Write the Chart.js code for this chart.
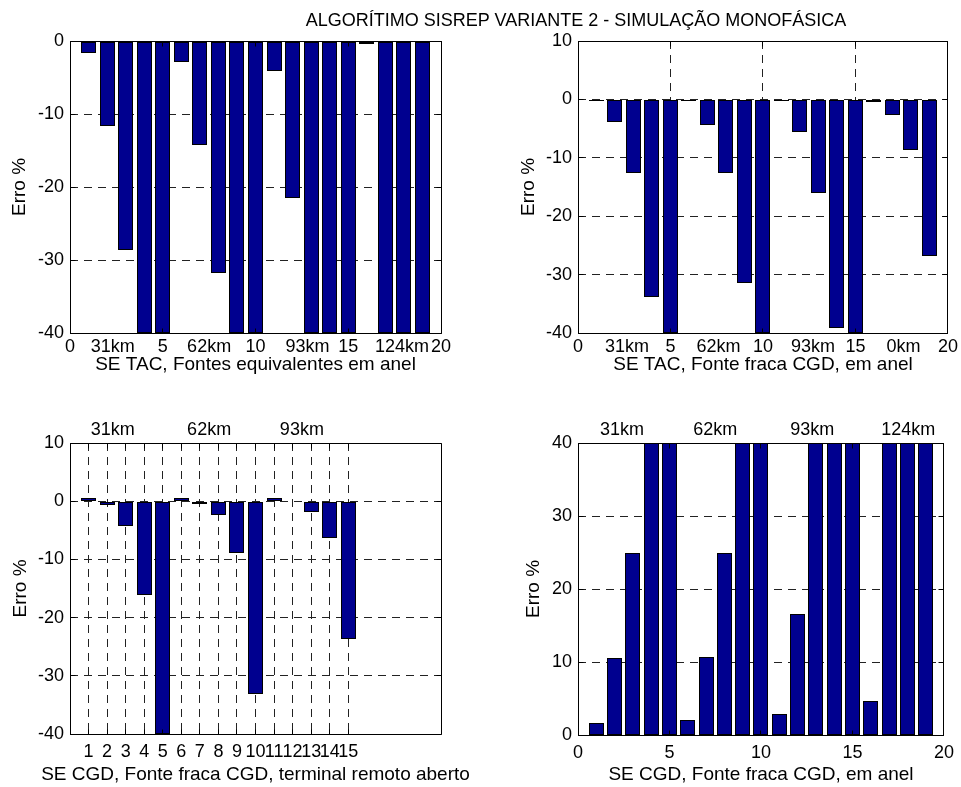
<!DOCTYPE html>
<html>
<head>
<meta charset="utf-8">
<script src="https://cdn.jsdelivr.net/npm/chart.js@4.4.1/dist/chart.umd.min.js"></script>
<style>
  body { margin: 0; background: #fff; width: 961px; height: 787px; position: relative; overflow: hidden; }
  canvas { position: absolute; }
  #titulo {
    position: absolute; left: 276px; top: 11px; width: 600px; text-align: center;
    font-family: 'Liberation Sans', Arial, sans-serif; font-size: 18px; line-height: 18px; color: #000;
  }
</style>
</head>
<body>
<canvas id="g1" width="480" height="393" style="left:0;top:0"></canvas>
<canvas id="g2" width="481" height="393" style="left:480px;top:0"></canvas>
<canvas id="g3" width="480" height="394" style="left:0;top:393px"></canvas>
<canvas id="g4" width="481" height="394" style="left:480px;top:393px"></canvas>
<div id="titulo">ALGORÍTIMO SISREP VARIANTE 2 - SIMULAÇÃO MONOFÁSICA</div>
<script>
// posições das barras (pontos de falta)
const posicoes = [1, 2, 3, 4, 5, 6, 7, 8, 9, 10, 11, 12, 13, 14, 15, 16, 17, 18, 19];

const erroTacAnel = [-1.7, -11.6, -28.6, -40, -40, -2.9, -14.2, -31.8, -40, -40, -4.1, -21.5, -40, -40, -40, -0.45, -40, -40, -40];
const erroTacFraca = [-0.3, -3.9, -12.6, -33.8, -40, -0.2, -4.4, -12.6, -31.4, -40, -0.3, -5.6, -16.1, -39.1, -40, -0.5, -2.6, -8.7, -26.8];
const erroCgdAberto = [0.5, -0.6, -4.2, -16.2, -40, 0.5, -0.4, -2.4, -8.9, -33.1, 0.5, -0.1, -1.8, -6.4, -23.6];
const erroCgdAnel = [1.6, 10.5, 24.9, 40, 40, 2.0, 10.7, 24.9, 40, 40, 2.9, 16.6, 40, 40, 40, 4.7, 40, 40, 40];

// marcas numéricas do eixo x
const marcasCinco = [0, 5, 10, 15, 20];
const marcasUm = [1, 2, 3, 4, 5, 6, 7, 8, 9, 10, 11, 12, 13, 14, 15];

// rótulos de distância
const kmPos1 = [2.3, 7.5, 12.8, 17.9];
const kmRotulos1 = ["31km", "62km", "93km", "124km"];
const kmPos2 = [2.65, 7.6, 12.7, 17.6];
const kmRotulos2 = ["31km", "62km", "93km", "0km"];
const kmPos3 = [2.3, 7.5, 12.5];
const kmRotulos3 = ["31km", "62km", "93km"];
const kmPos4 = [2.4, 7.5, 12.8, 18.05];
const kmRotulos4 = ["31km", "62km", "93km", "124km"];

const familia = "'Liberation Sans', Arial, sans-serif";
Chart.defaults.font.family = familia;
Chart.defaults.font.size = 18;
Chart.defaults.color = "#000";

const corGrade = "#222";
const corBarra = "#00008F";

function rotulo(v, p) {
  const i = p.kmPos.indexOf(v);
  if (i >= 0) return p.kmRotulos[i];
  return String(v);
}

const alinha = (v) => Math.round(v - 0.5) + 0.5;

// encaixa as barras nos pixels para a borda ficar nitida
const encaixe = {
  id: "encaixe",
  beforeDatasetsDraw(chart) {
    chart.getDatasetMeta(0).data.forEach((el) => {
      const w = Math.round(el.width);
      const esq = Math.round(el.x - w / 2);
      el.x = esq + w / 2;
      el.width = w;
      el.y = Math.round(el.y);
      el.base = Math.round(el.base);
    });
  },
};

// moldura da área do gráfico, tiques para dentro (estilo matlab) e texto do eixo x
const moldura = {
  id: "moldura",
  afterDatasetsDraw(chart, args, opts) {
    const { ctx, chartArea: a, scales } = chart;
    const x0 = alinha(a.left), x1 = alinha(a.right);
    const y0 = alinha(a.top), y1 = alinha(a.bottom);
    ctx.save();
    ctx.strokeStyle = "#000";
    ctx.lineWidth = 1;
    ctx.beginPath();
    scales.x.ticks.forEach((t) => {
      if (!opts.marcas.includes(t.value)) return;
      const px = alinha(scales.x.getPixelForValue(t.value));
      ctx.moveTo(px, y1);
      ctx.lineTo(px, y1 - 5);
      ctx.moveTo(px, y0);
      ctx.lineTo(px, y0 + 5);
    });
    scales.y.ticks.forEach((t) => {
      const py = alinha(scales.y.getPixelForValue(t.value));
      ctx.moveTo(x0, py);
      ctx.lineTo(x0 + 5, py);
      ctx.moveTo(x1, py);
      ctx.lineTo(x1 - 5, py);
    });
    ctx.rect(x0, y0, x1 - x0, y1 - y0);
    ctx.stroke();

    ctx.fillStyle = "#000";
    ctx.font = "19px " + familia;
    ctx.textAlign = "center";
    ctx.textBaseline = "middle";
    ctx.fillText(opts.texto, (a.left + a.right) / 2, opts.textoY);
    ctx.restore();
  },
};

function grafico(id, p) {
  const dados = p.valores.map((v, i) => ({ x: posicoes[i], y: v }));

  const escalas = {
    x: {
      type: "linear",
      min: 0,
      max: 20,
      offset: false,
      afterBuildTicks: (s) => {
        let lista = p.kmEmCima ? p.marcas.slice() : p.marcas.concat(p.kmPos);
        lista.sort((a, b) => a - b);
        s.ticks = lista.map((v) => ({ value: v }));
      },
      afterFit: (s) => {
        s.height = p.alturaX;
      },
      ticks: {
        autoSkip: false,
        maxRotation: 0,
        minRotation: 0,
        padding: p.padTickX,
        callback: (v) => (p.kmEmCima ? String(v) : rotulo(v, p)),
      },
      grid: {
        offset: false,
        drawTicks: false,
        lineWidth: 1,
        color: (c) => (c.tick && p.kmPos.includes(c.tick.value) ? "rgba(0,0,0,0)" : corGrade),
      },
      border: { display: false, dash: [8, 6] },
    },
    y: {
      min: p.yMin,
      max: p.yMax,
      afterFit: (s) => {
        s.width = p.larguraY;
      },
      ticks: { stepSize: 10, padding: 6 },
      grid: { drawTicks: false, lineWidth: 1, color: corGrade },
      border: { display: false, dash: [8, 6] },
      title: { display: true, text: "Erro %", font: { size: 19 }, padding: { top: p.padTituloY, bottom: 0 } },
    },
  };

  if (p.kmEmCima) {
    escalas.xt = {
      type: "linear",
      position: "top",
      axis: "x",
      min: 0,
      max: 20,
      offset: false,
      afterBuildTicks: (s) => {
        s.ticks = p.kmPos.map((v) => ({ value: v }));
      },
      afterFit: (s) => {
        s.height = p.alturaTopo;
      },
      ticks: {
        autoSkip: false,
        maxRotation: 0,
        minRotation: 0,
        padding: 2,
        callback: (v) => rotulo(v, p),
      },
      grid: { display: false, drawTicks: false },
      border: { display: false },
    };
  }

  new Chart(document.getElementById(id), {
    type: "bar",
    data: {
      datasets: [
        {
          data: dados,
          backgroundColor: corBarra,
          borderColor: "#000",
          borderWidth: 1,
          borderSkipped: false,
          barPercentage: 0.8,
          categoryPercentage: 1.0,
        },
      ],
    },
    options: {
      responsive: false,
      animation: false,
      layout: { padding: p.padding },
      scales: escalas,
      plugins: {
        legend: { display: false },
        tooltip: { enabled: false },
        moldura: { marcas: p.marcas, texto: p.textoX, textoY: p.textoY },
      },
    },
    plugins: [encaixe, moldura],
  });
}

grafico("g1", {
  valores: erroTacAnel,
  yMin: -40,
  yMax: 0,
  marcas: marcasCinco,
  kmPos: kmPos1,
  kmRotulos: kmRotulos1,
  kmEmCima: false,
  textoX: "SE TAC, Fontes equivalentes em anel",
  textoY: 365,
  padding: { left: 0, top: 41, right: 39, bottom: 0 },
  larguraY: 70,
  padTituloY: 8,
  alturaX: 60,
  padTickX: 3,
});

grafico("g2", {
  valores: erroTacFraca,
  yMin: -40,
  yMax: 10,
  marcas: marcasCinco,
  kmPos: kmPos2,
  kmRotulos: kmRotulos2,
  kmEmCima: false,
  textoX: "SE TAC, Fonte fraca CGD, em anel",
  textoY: 365,
  padding: { left: 0, top: 41, right: 13, bottom: 0 },
  larguraY: 98,
  padTituloY: 37,
  alturaX: 60,
  padTickX: 3,
});

grafico("g3", {
  valores: erroCgdAberto,
  yMin: -40,
  yMax: 10,
  marcas: marcasUm,
  kmPos: kmPos3,
  kmRotulos: kmRotulos3,
  kmEmCima: true,
  textoX: "SE CGD, Fonte fraca CGD, terminal remoto aberto",
  textoY: 382,
  padding: { left: 0, top: 0, right: 39, bottom: 0 },
  larguraY: 70,
  padTituloY: 9,
  alturaX: 53,
  alturaTopo: 50,
  padTickX: 7,
});

grafico("g4", {
  valores: erroCgdAnel,
  yMin: 0,
  yMax: 40,
  marcas: marcasCinco,
  kmPos: kmPos4,
  kmRotulos: kmRotulos4,
  kmEmCima: true,
  textoX: "SE CGD, Fonte fraca CGD, em anel",
  textoY: 382,
  padding: { left: 0, top: 0, right: 13, bottom: 0 },
  larguraY: 98,
  padTituloY: 42,
  alturaX: 52,
  alturaTopo: 50,
  padTickX: 7,
});
</script>
</body>
</html>
